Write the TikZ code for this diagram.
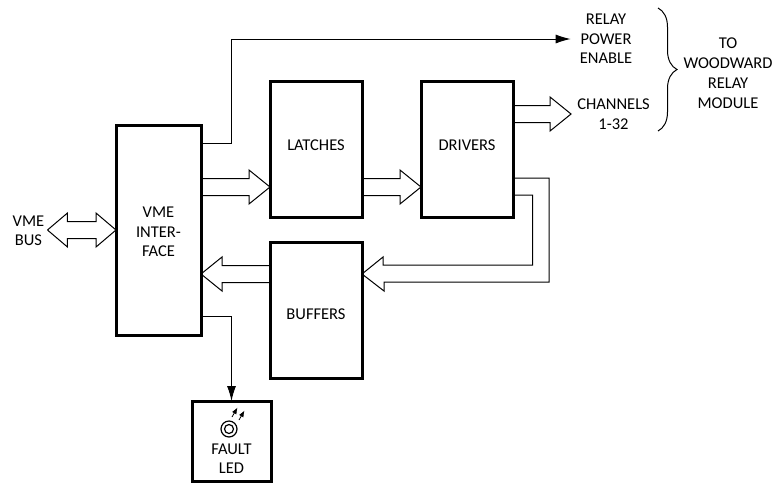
\documentclass[tikz,border=0pt]{standalone}
\usepackage{fontspec}
\setmainfont{Carlito}
\usetikzlibrary{arrows.meta,calc,positioning,decorations.pathreplacing}

\begin{document}
\begin{tikzpicture}[
  x=1pt, y=-1pt,
  every node/.style={
    font=\fontsize{16.5}{19.5}\selectfont,
    align=center,
    inner sep=0pt
  },
  block/.style={
    rectangle,
    draw=black,
    line width=3pt,
    outer sep=0pt,
    fill=white
  },
  flow/.style={-{Latex[length=15pt,width=9pt]}, line width=1pt},
  ledray/.style={-{Latex[length=6.5pt,width=5pt]}, line width=0.8pt},
  bus/.style={
    line width=1pt, line join=miter,
    to path={
      let \p1=(\tikztostart), \p2=(\tikztotarget),
          \n1={atan2(\y2-\y1,\x2-\x1)}, \n2={veclen(\x2-\x1,\y2-\y1)} in
      ++(\n1+90:8.5pt) -- ++(\n1:\n2-21pt) -- ++(\n1+90:8.5pt) -- (\tikztotarget)
      -- ($(\tikztotarget)+(\n1+180:21pt)+(\n1-90:17pt)$)
      -- ++(\n1+90:8.5pt) -- ++(\n1+180:\n2-21pt)
    }
  },
  busboth/.style={
    line width=1pt, line join=miter,
    to path={
      let \p1=(\tikztostart), \p2=(\tikztotarget),
          \n1={atan2(\y2-\y1,\x2-\x1)}, \n2={veclen(\x2-\x1,\y2-\y1)} in
      -- ($(\tikztostart)+(\n1:20pt)+(\n1+90:17pt)$)
      -- ++(\n1-90:8.5pt) -- ++(\n1:\n2-40pt) -- ++(\n1+90:8.5pt) -- (\tikztotarget)
      -- ($(\tikztotarget)+(\n1+180:20pt)+(\n1-90:17pt)$)
      -- ++(\n1+90:8.5pt) -- ++(\n1+180:\n2-40pt) -- ++(\n1-90:8.5pt) -- (\tikztostart)
    }
  }
]
\useasboundingbox (0,0) rectangle (773,483);

% --- BLOCKS --------------------------------------------------------
\node[block, minimum width=85pt, minimum height=210pt,
      label={[yshift=-2pt]center:VME\\INTER-\\FACE}] (vme) at (158.5,230) {};
\node[block, minimum width=92pt, minimum height=136pt,
      label={[yshift=4pt]center:LATCHES}] (latches) at (316,149) {};
\node[block, minimum width=92pt, minimum height=136pt, right=59pt of latches,
      label={[yshift=4pt]center:DRIVERS}] (drivers) {};
\node[block, minimum width=92pt, minimum height=136pt, below=25pt of latches,
      label={[yshift=-4pt]center:BUFFERS}] (buffers) {};
\node[block, minimum width=79pt, minimum height=80pt,
      label={[yshift=-17.5pt]center:FAULT\\LED}] (fault) at (231.5,441) {};

% --- LED -----------------------------------------------------------
\node[circle, draw, line width=1.2pt, minimum size=16pt] (led) at (229,429) {};
\node[circle, draw, line width=1.2pt, minimum size=9pt] (ledcore) at (led.center) {};
\draw[ledray] ([shift={(3,-12)}]led.center) -- ++(5.5,-9.5);
\draw[ledray] ([shift={(10,-9)}]led.center) -- ++(5.5,-9.5);

% --- TEXTS ---------------------------------------------------------
\node[inner xsep=3pt] (vmebus) at (28.5,231) {VME\\BUS};
\node[inner xsep=9pt] (relay) at (606,39) {RELAY\\POWER\\ENABLE};
\node[inner xsep=6pt] (channels) at (613.5,114) {CHANNELS\\1-32};
\node[font=\fontsize{16.5}{20}\selectfont] (woodward) at (728,73.5) {TO\\WOODWARD\\RELAY\\MODULE};

% --- BRACE ---------------------------------------------------------
\coordinate (bracetop) at (658,8);
\coordinate (bracebot) at (658,131);
\draw[decorate, decoration={brace, amplitude=19pt}, line width=1pt]
  (bracetop) -- (bracebot);

% --- THIN ARROWS ----------------------------------------------------
\draw[flow] ([yshift=87pt]vme.east) -- ++(30,0) |- (relay.west);
\draw[flow] ([yshift=-86pt]vme.east) -| (fault.north);

% --- HOLLOW ARROWS --------------------------------------------------
\coordinate (latchin) at ([yshift=-38pt]latches.west);
\coordinate (bufout) at ([yshift=36pt]buffers.west);
\draw[busboth] (vmebus.east |- vme.west) to (vme.west);
\draw[bus] (vme.east |- latchin) to (latchin);
\draw[bus] ([yshift=-38pt]latches.east) to ([yshift=-38pt]drivers.west);
\draw[bus] (drivers.east |- channels.west) to (channels.west);
\draw[bus] (bufout) to (vme.east |- bufout);

% --- LOOP DRIVERS TO BUFFERS ----------------------------------------
\draw[line width=1pt, line join=miter]
  ([yshift=-29pt]drivers.east) -- ++(36,0) -- ++(0,104) -- ++(-165,0) -- ++(0,9)
  -- ([yshift=36pt]buffers.east) -- ++(21,-17) -- ++(0,8) -- ++(149.5,0) -- ++(0,-70)
  -- ([yshift=-46pt]drivers.east);

\end{tikzpicture}
\end{document}
